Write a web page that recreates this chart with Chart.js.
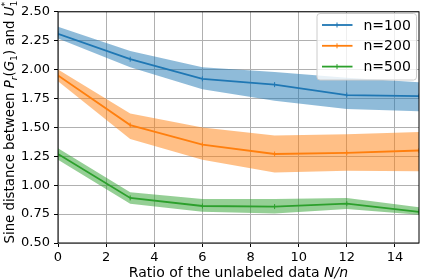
<!DOCTYPE html>
<html>
<head>
<meta charset="utf-8">
<script src="https://cdn.jsdelivr.net/npm/chart.js@4.4.1/dist/chart.umd.min.js"></script>
<style>
  html, body { margin: 0; padding: 0; background: #fff; }
  #wrap { width: 424px; height: 280px; position: relative; }
</style>
</head>
<body>
<div id="wrap"><canvas id="sine-chart"></canvas></div>
<script>
// ratio N/n on the x axis
const ratios = [0, 3, 6, 9, 12, 15];

const seriesLabels = ['n=100', 'n=200', 'n=500'];

// mean sine distance
const mean100 = [2.31, 2.09, 1.92, 1.87, 1.78, 1.77];
const mean200 = [1.95, 1.52, 1.35, 1.27, 1.28, 1.30];
const mean500 = [1.27, 0.89, 0.82, 0.815, 0.84, 0.77];

// shaded band, upper edge
const upper100 = [2.37, 2.16, 2.02, 1.98, 1.93, 1.89];
const upper200 = [2.00, 1.62, 1.50, 1.43, 1.44, 1.46];
const upper500 = [1.32, 0.94, 0.88, 0.88, 0.89, 0.81];

// shaded band, lower edge
const lower100 = [2.27, 2.02, 1.83, 1.73, 1.66, 1.64];
const lower200 = [1.90, 1.40, 1.22, 1.11, 1.125, 1.12];
const lower500 = [1.22, 0.84, 0.77, 0.755, 0.795, 0.745];

const xTicks = [0, 2, 4, 6, 8, 10, 12, 14];
const yTicks = [0.5, 0.75, 1.0, 1.25, 1.5, 1.75, 2.0, 2.25, 2.5];

// axis titles, split into pieces so the math parts can be italic / sub / sup
const xTitle = [
  { t: 'Ratio of the unlabeled data ' },
  { t: 'N/n', it: true }
];
const yTitle = [
  { t: 'Sine distance between ' },
  { t: 'P', it: true }, { t: 'r', it: true, sub: true },
  { t: '(' }, { t: 'G', it: true }, { t: '1', sub: true },
  { t: ') and ' },
  { t: 'U', it: true }, { t: '1', sub: true }, { t: '*', sup: true, stack: true }
];

const colors = ['#1f77b4', '#ff7f0e', '#2ca02c'];
const bandColors = ['rgba(31,119,180,0.5)', 'rgba(255,127,14,0.5)', 'rgba(44,160,44,0.5)'];

const FONT = 'DejaVu Sans';
const TITLE_SIZE = 14;

function pts(ys) {
  return ratios.map((x, i) => ({ x: x, y: ys[i] }));
}

const means = [mean100, mean200, mean500];
const uppers = [upper100, upper200, upper500];
const lowers = [lower100, lower200, lower500];

const datasets = [];
// bands first so the lines sit on top
for (let s = 0; s < 3; s++) {
  datasets.push({
    label: 'upper' + s,
    data: pts(uppers[s]),
    borderWidth: 0,
    pointRadius: 0,
    fill: false,
    tension: 0
  });
  datasets.push({
    label: 'lower' + s,
    data: pts(lowers[s]),
    borderWidth: 0,
    pointRadius: 0,
    backgroundColor: bandColors[s],
    fill: '-1',
    tension: 0
  });
}
for (let s = 0; s < 3; s++) {
  datasets.push({
    label: seriesLabels[s],
    data: pts(means[s]),
    borderColor: colors[s],
    backgroundColor: colors[s],
    borderWidth: 1.8,
    fill: false,
    tension: 0,
    pointStyle: 'line',
    rotation: 90,
    pointRadius: 2.5,
    pointBorderWidth: 1,
    pointBorderColor: colors[s]
  });
}

function pieceFont(p, size) {
  const s = (p.sub || p.sup) ? size * 0.7 : size;
  return (p.it ? 'oblique ' : '') + s + 'px "' + FONT + '"';
}

// lay out pieces, returns total width; draws if draw=true (origin at left baseline)
function richText(ctx, pieces, size, draw) {
  let x = 0, lastX = 0;
  for (const p of pieces) {
    ctx.font = pieceFont(p, size);
    const w = ctx.measureText(p.t).width;
    const px = p.stack ? lastX : x;
    const dy = p.sub ? size * 0.22 : (p.sup ? -size * 0.45 : 0);
    if (draw) ctx.fillText(p.t, px, dy);
    if (!p.stack) { lastX = x; x += w; }
    else { x = Math.max(x, px + w); }
  }
  return x;
}

const titlesPlugin = {
  id: 'titles',
  afterDraw(chart) {
    const { ctx, chartArea: a } = chart;
    ctx.save();
    ctx.fillStyle = '#000';
    ctx.textAlign = 'left';
    ctx.textBaseline = 'alphabetic';

    // x title
    const w = richText(ctx, xTitle, TITLE_SIZE, false);
    ctx.save();
    ctx.translate((a.left + a.right) / 2 - w / 2, 277);
    richText(ctx, xTitle, TITLE_SIZE, true);
    ctx.restore();

    // y title, rotated, starts just at the bottom of the plot
    ctx.save();
    ctx.translate(14, 243.5);
    ctx.rotate(-Math.PI / 2);
    richText(ctx, yTitle, 13.3, true);
    ctx.restore();

    ctx.restore();
  }
};

// frame around the plot + legend box in the upper right
const framePlugin = {
  id: 'frame',
  afterDatasetsDraw(chart) {
    const { ctx, chartArea: a } = chart;
    ctx.save();
    ctx.strokeStyle = '#000';
    ctx.lineWidth = 1;
    ctx.strokeRect(a.left, a.top, a.right - a.left, a.bottom - a.top);

    // legend
    const bx = 317, by = 13.5, bw = 99.5, bh = 66.5;
    ctx.fillStyle = 'rgba(255,255,255,0.8)';
    ctx.strokeStyle = '#cccccc';
    ctx.beginPath();
    ctx.roundRect(bx, by, bw, bh, 3);
    ctx.fill();
    ctx.stroke();
    ctx.font = TITLE_SIZE + 'px "' + FONT + '"';
    ctx.textBaseline = 'middle';
    ctx.textAlign = 'left';
    for (let s = 0; s < 3; s++) {
      const y = 25 + s * 20.8;
      ctx.strokeStyle = colors[s];
      ctx.lineWidth = 1.8;
      ctx.beginPath();
      ctx.moveTo(322, y);
      ctx.lineTo(352.5, y);
      ctx.stroke();
      ctx.lineWidth = 1;
      ctx.beginPath();
      ctx.moveTo(337, y - 2.5);
      ctx.lineTo(337, y + 2.5);
      ctx.stroke();
      ctx.fillStyle = '#000';
      ctx.fillText(seriesLabels[s], 363.5, y + 1);
    }
    ctx.restore();
  }
};

new Chart(document.getElementById('sine-chart'), {
  type: 'line',
  data: { datasets: datasets },
  options: {
    responsive: true,
    maintainAspectRatio: false,
    animation: false,
    layout: { padding: { top: 6, right: 1, left: 0, bottom: 0 } },
    plugins: {
      legend: { display: false },
      tooltip: { enabled: false }
    },
    scales: {
      x: {
        type: 'linear',
        min: 0,
        max: 15,
        afterFit: (scale) => { scale.height = 37; },
        afterBuildTicks: (scale) => { scale.ticks = xTicks.map(v => ({ value: v })); },
        ticks: {
          color: '#000',
          font: { family: FONT, size: 13 },
          padding: 3,
          maxRotation: 0,
          callback: (v) => String(v)
        },
        grid: { color: '#b0b0b0', lineWidth: 1, tickLength: 4, tickColor: '#000' },
        border: { display: false }
      },
      y: {
        min: 0.5,
        max: 2.5,
        afterFit: (scale) => { scale.width = 58; },
        afterBuildTicks: (scale) => { scale.ticks = yTicks.map(v => ({ value: v })); },
        ticks: {
          color: '#000',
          font: { family: FONT, size: 13 },
          padding: 4,
          callback: (v) => Number(v).toFixed(2)
        },
        grid: { color: '#b0b0b0', lineWidth: 1, tickLength: 4, tickColor: '#000' },
        border: { display: false }
      }
    }
  },
  plugins: [framePlugin, titlesPlugin]
});
</script>
</body>
</html>
